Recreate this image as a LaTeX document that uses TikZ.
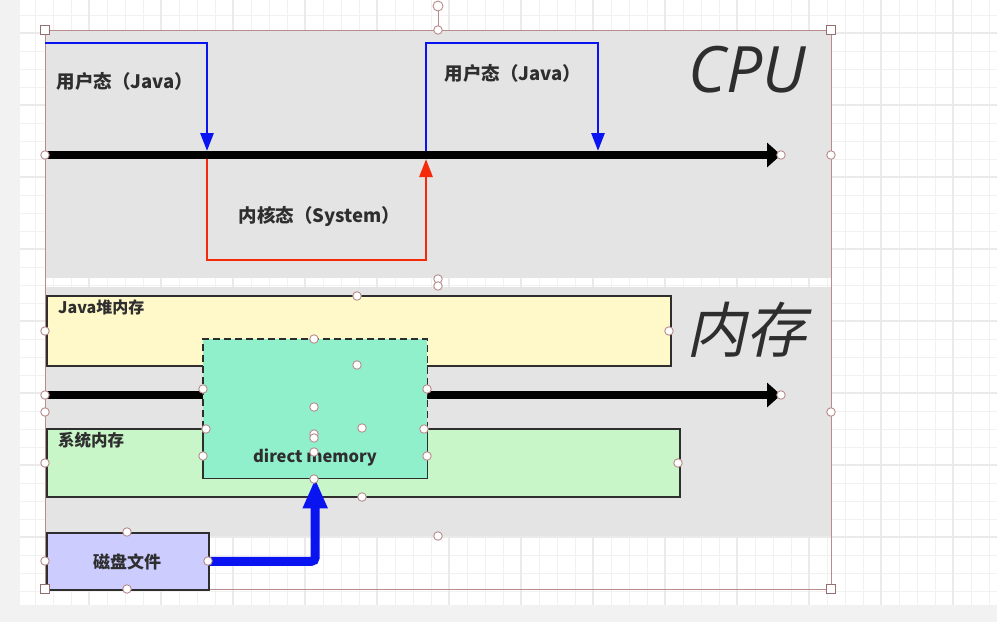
\documentclass[tikz,border=0pt]{standalone}
\usepackage{fontspec}
\setmainfont{Noto Sans CJK SC}
\newfontfamily\slantcjk{Noto Sans CJK SC}[FakeSlant=0.22]
\newfontfamily\cpufont{Open Sans}
\usetikzlibrary{arrows.meta}
\definecolor{panelgray}{HTML}{E4E4E4}
\definecolor{stripgray}{HTML}{F2F2F2}
\definecolor{gridminor}{HTML}{F1F1F1}
\definecolor{gridmajor}{HTML}{EAEAEA}
\definecolor{heapyellow}{HTML}{FFF9C9}
\definecolor{sysgreen}{HTML}{C9F6C9}
\definecolor{dmaqua}{HTML}{90F0CC}
\definecolor{disklav}{HTML}{CCCCFF}
\definecolor{txt}{HTML}{2E2E2E}
\definecolor{selcol}{HTML}{B88C8C}
\definecolor{pureblue}{HTML}{0A14F0}
\definecolor{purered}{HTML}{F52A0A}
\tikzset{
  panel/.style={fill=panelgray, draw=none, inner sep=0, anchor=north west},
  membox/.style={draw=txt, line width=1.8pt, inner sep=0, anchor=north west},
  lbl/.style={text=txt, inner sep=0, font=\fontsize{18.5}{21}\selectfont\bfseries},
  smalllbl/.style={text=txt, inner sep=0, font=\fontsize{16}{19}\selectfont\bfseries},
  axis/.style={line width=8pt, black, -{Triangle[length=14pt,width=24pt]}},
  modeline/.style={line width=2.8pt, -{Triangle[length=18pt,width=13pt]}},
  hdl/.style={circle, fill=white, draw=selcol, line width=0.9pt, minimum size=8.5pt, inner sep=0},
  sqhdl/.style={rectangle, fill=white, draw=selcol!80!black, line width=0.9pt, minimum size=9pt, inner sep=0},
}
\begin{document}
\begin{tikzpicture}[x=1pt,y=-1pt]
\useasboundingbox (0,0) rectangle (997,622);
% background
\fill[white] (0,0) rectangle (997,622);
\fill[stripgray] (0,0) rectangle (20,622);
\fill[stripgray] (0,605) rectangle (997,622);
\begin{scope}
\clip (20,0) rectangle (997,605);
\foreach \k in {0,...,55} {
  \draw[gridminor, line width=1pt] ({17+18*\k},0) -- ({17+18*\k},605);
}
\foreach \k in {0,...,34} {
  \draw[gridminor, line width=1pt] (20,{15+18*\k}) -- (997,{15+18*\k});
}
\foreach \k in {0,...,13} {
  \draw[gridmajor, line width=1.3pt] ({17+72*\k},0) -- ({17+72*\k},605);
}
\foreach \k in {0,...,8} {
  \draw[gridmajor, line width=1.3pt] (20,{33+72*\k}) -- (997,{33+72*\k});
}
\end{scope}
% panels
\node[panel, minimum width=786pt, minimum height=248pt] (cpupanel) at (45,30) {};
\node[panel, minimum width=786pt, minimum height=249pt] (mempanel) at (45,287) {};
% selection frame
\draw[selcol, line width=0.8pt] (45,30) rectangle (831,589);
% CPU section
\coordinate (axisL) at (45,155);
\coordinate (axisR) at (781,155);
\draw[axis] (axisL) -- (axisR);
\coordinate (u1start) at (45,43);
\coordinate (t1) at (207,151);
\coordinate (k1) at (207,159);
\coordinate (k2) at (426,159);
\coordinate (u2start) at (426,151);
\coordinate (u2corner) at (598,43);
\coordinate (t2) at (598,151);
\draw[modeline, pureblue] (u1start) -| (t1);
\draw[modeline, purered] (k1) -- (207,260) -| (k2);
\draw[modeline, pureblue] (u2start) |- (u2corner) -- (t2);
\node[lbl] (user1) at (125,81) {用户态（Java）};
\node[lbl] (kern) at (319.5,216) {内核态（System）};
\node[lbl] (user2) at (513,73) {用户态（Java）};
\node[text=txt, inner sep=0, font=\cpufont\itshape\fontsize{64}{70}\selectfont] (cpu) at (747,70) {CPU};
% memory section
\node[membox, fill=heapyellow, minimum width=624pt, minimum height=70pt] (heap) at (46,295) {};
\node[smalllbl, anchor=north west] (heaplbl) at (58,300) {Java堆内存};
\node[text=txt, inner sep=0, font=\slantcjk\fontsize{60}{66}\selectfont] (mem) at (746,330) {内存};
\coordinate (maxisL) at (45,395);
\coordinate (maxisR) at (781,395);
\draw[axis] (maxisL) -- (maxisR);
\node[membox, fill=sysgreen, minimum width=633pt, minimum height=68pt] (sys) at (46,428) {};
\node[smalllbl, anchor=north west, font=\fontsize{16.5}{19}\selectfont\bfseries] (syslbl) at (58,432) {系统内存};
\node[fill=dmaqua, inner sep=0, anchor=north west, minimum width=224pt, minimum height=139pt] (dm) at (203,339) {};
\draw[txt, line width=1.8pt, dash pattern=on 7pt off 4pt] (dm.west |- sys.north) -- (dm.north west) -- (dm.north east) -- (dm.east |- sys.north);
\draw[txt, line width=1.8pt] (dm.west |- sys.north) -- (dm.south west) -- (dm.south east) -- (dm.east |- sys.north);
\node[lbl, font=\fontsize{16.5}{19}\selectfont\bfseries] (dmlbl) at (315,457) {direct memory};
\node[membox, fill=disklav, minimum width=162pt, minimum height=57pt] (disk) at (46,532) {};
\node[lbl, font=\fontsize{17}{20}\selectfont\bfseries] (disklbl) at (127,562) {磁盘文件};
\draw[pureblue, line width=9pt, rounded corners=4pt, -{Triangle[length=30pt,width=23pt]}] (disk.east) -| (dm.south);
% handles
\draw[selcol, line width=0.9pt] (438,10) -- (438,27);
\node[hdl, minimum size=10pt] (rot) at (438,6) {};
\foreach \x/\y [count=\i] in {438/30, 45/155, 781/155, 831/155, 438/279, 438/286,
  357/296, 45/331, 669/331, 314/339, 357/365, 203/389, 427/389, 45/395, 781/395,
  45/412, 831/412, 314/407, 362/428, 206/429, 424/429, 314/434, 314/438, 314/452,
  203/456, 427/456, 45/463, 678/463, 314/479, 362/497, 438/536, 127/532,
  45/561, 208/561, 127/589} {
  \node[hdl] (h\i) at (\x,\y) {};
}
\foreach \x/\y [count=\i] in {45/30, 831/30, 45/589, 831/589} {
  \node[sqhdl] (s\i) at (\x,\y) {};
}
\end{tikzpicture}
\end{document}
